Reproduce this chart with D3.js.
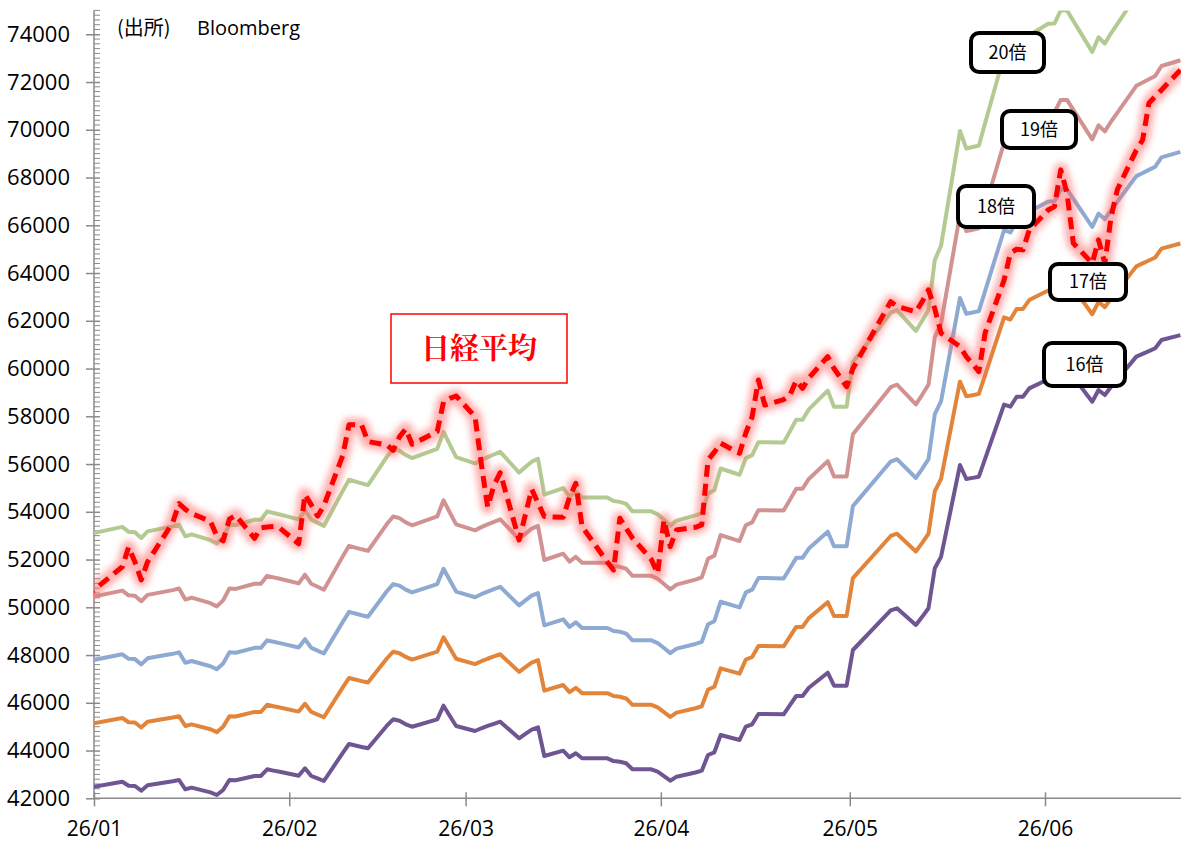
<!DOCTYPE html>
<html>
<head>
<meta charset="utf-8">
<script src="https://cdn.jsdelivr.net/npm/d3@7"></script>
<style>
  html, body { margin: 0; padding: 0; background: #ffffff; }
  svg { display: block; }
</style>
</head>
<body>
<svg id="chart" width="1181" height="843"></svg>
<script>
// Trading days (Tokyo), Nikkei 225 close and forward EPS
const dates = [
  "2025-12-30",
  "2026-01-05","2026-01-06","2026-01-07","2026-01-08","2026-01-09","2026-01-13","2026-01-14","2026-01-15","2026-01-16",
  "2026-01-19","2026-01-20","2026-01-21","2026-01-22","2026-01-23","2026-01-26","2026-01-27","2026-01-28","2026-01-29","2026-01-30",
  "2026-02-02","2026-02-03","2026-02-04","2026-02-05","2026-02-06","2026-02-09","2026-02-10","2026-02-12","2026-02-13",
  "2026-02-16","2026-02-17","2026-02-18","2026-02-19","2026-02-20","2026-02-24","2026-02-25","2026-02-26","2026-02-27",
  "2026-03-02","2026-03-03","2026-03-04","2026-03-05","2026-03-06","2026-03-09","2026-03-10","2026-03-11","2026-03-12","2026-03-13",
  "2026-03-16","2026-03-17","2026-03-18","2026-03-19","2026-03-23","2026-03-24","2026-03-25","2026-03-26","2026-03-27","2026-03-30","2026-03-31",
  "2026-04-01","2026-04-02","2026-04-03","2026-04-06","2026-04-07","2026-04-08","2026-04-09","2026-04-10","2026-04-13","2026-04-14",
  "2026-04-15","2026-04-16","2026-04-17","2026-04-20","2026-04-21","2026-04-22","2026-04-23","2026-04-24","2026-04-27","2026-04-28","2026-04-30",
  "2026-05-01","2026-05-07","2026-05-08","2026-05-11","2026-05-12","2026-05-13","2026-05-14","2026-05-15","2026-05-18",
  "2026-05-19","2026-05-20","2026-05-21","2026-05-22","2026-05-25","2026-05-26","2026-05-27","2026-05-28","2026-05-29",
  "2026-06-01","2026-06-02","2026-06-03","2026-06-04","2026-06-05","2026-06-08","2026-06-09","2026-06-10","2026-06-11","2026-06-12",
  "2026-06-15","2026-06-16","2026-06-17","2026-06-18","2026-06-19","2026-06-22"
];

const nikkei = [
  50400,
  51700, 52518, 51900, 51150, 51900, 53550, 54340, 54100, 53930,
  53600, 52990, 52780, 53690, 53850, 52890, 53330, 53360, 53380, 53320,
  52660, 54720, 54290, 53820, 54250, 56360, 57650, 57640, 56940,
  56800, 56570, 57140, 57470, 56830, 57360, 58610, 58750, 58850,
  57990, 56000, 54210, 55100, 55640, 52820, 53880, 54940, 54370, 53800,
  53770, 54600, 55190, 53380, 51900, 51560, 53730, 53300, 52900, 52000, 51420,
  53660, 52540, 53240, 53350, 53450, 56170, 56500, 56870, 56450, 57300,
  57980, 59520, 58470, 58700, 58890, 59500, 59170, 59600, 60500, 60000, 59240,
  60000, 62800, 62600, 62380, 62800, 63290, 62500, 61480, 60920,
  60500, 60200, 59870, 61500, 63700, 64830, 65000, 64970, 65800,
  66640, 66780, 68320, 67340, 65250, 64410, 65390, 64410, 66360, 67500,
  69150, 69570, 71110, 71400, 71670, 72500
];

const eps = [
  2651.1,
  2668.4, 2658.0, 2657.2, 2644.9, 2659.0, 2669.5, 2672.9, 2648.6, 2652.8,
  2640.6, 2633.6, 2646.8, 2672.9, 2672.1, 2683.4, 2683.4, 2700.9, 2697.5, 2694.4,
  2684.2, 2703.5, 2683.4, 2676.9, 2670.3, 2743.8, 2767.1, 2759.4, 2755.9,
  2815.0, 2831.8, 2828.1, 2818.8, 2812.4, 2831.8, 2867.4, 2840.6, 2814.3,
  2801.2, 2808.3, 2814.4, 2820.0, 2825.5, 2782.1, 2793.8, 2805.0, 2810.9, 2735.8,
  2749.7, 2732.3, 2742.8, 2729.7, 2729.7, 2722.5, 2720.8, 2716.6, 2700.9, 2700.9, 2694.6,
  2683.1, 2671.1, 2681.6, 2692.5, 2697.3, 2738.4, 2745.4, 2790.7, 2777.6, 2812.4,
  2818.7, 2845.7, 2845.7, 2844.9, 2868.8, 2892.8, 2892.8, 2914.5, 2953.8, 2919.8, 2919.8,
  3013.2, 3116.9, 3122.4, 3078.7, 3100.0, 3122.4, 3227.1, 3257.5, 3497.5,
  3460.9, 3463.8, 3466.9, 3514.1, 3655.7, 3650.1, 3676.3, 3676.3, 3698.1,
  3721.9, 3722.5, 3750.0, 3750.0, 3728.1, 3663.2, 3693.8, 3680.6, 3702.5, 3721.9,
  3781.1, 3788.4, 3795.6, 3803.0, 3824.8, 3837.5
];

// PER multiples drawn as bands (EPS x multiple)
const multiples = [16, 17, 18, 19, 20];
const bandLabels = ["16倍", "17倍", "18倍", "19倍", "20倍"];
const bandColors = ["#6f5592", "#e2853a", "#8eaad2", "#d09392", "#b3ca92"];

const yTicks = d3.range(42000, 74001, 2000);
const monthTicks = ["2026-01-01", "2026-02-01", "2026-03-01", "2026-04-01", "2026-05-01", "2026-06-01"];
const monthLabels = ["26/01", "26/02", "26/03", "26/04", "26/05", "26/06"];

// ---- layout ----
const plot = { left: 94, right: 1181, top: 10.4, bottom: 798.3 };
const pxPerDay = 6.298;

const parse = d3.utcParse("%Y-%m-%d");
const start = parse("2026-01-01");
const end = parse("2026-06-23");

const x = d3.scaleUtc()
  .domain([start, end])
  .range([plot.left, plot.left + pxPerDay * (end - start) / 864e5]);
const y = d3.scaleLinear().domain([42000, 75000]).range([plot.bottom, plot.top]);

// points sit in the middle of their day
const xDay = d => x(d3.utcHour.offset(d, 12));
const days = dates.map(parse);

const svg = d3.select("#chart");
const defs = svg.append("defs");
defs.append("clipPath").attr("id", "plotClip")
  .append("rect")
  .attr("x", plot.left).attr("y", plot.top)
  .attr("width", plot.right - plot.left).attr("height", plot.bottom - plot.top);

const glow = defs.append("filter").attr("id", "glow")
  .attr("x", "-10%").attr("y", "-10%").attr("width", "120%").attr("height", "120%");
glow.append("feGaussianBlur").attr("stdDeviation", 3);

const axisColor = "#8a8a8a";
const tickFont = "'Open Sans', 'Noto Sans', sans-serif";

// ---- y axis ----
const yAxis = svg.append("g")
  .attr("transform", `translate(${plot.left},0)`)
  .call(d3.axisLeft(y).tickValues(yTicks).tickSizeInner(8).tickSizeOuter(0).tickPadding(16)
    .tickFormat(d3.format("d")));
yAxis.select(".domain").attr("stroke", axisColor).attr("stroke-width", 1.5)
  .attr("d", `M0,${plot.top}V${plot.bottom}`);
yAxis.selectAll(".tick line").attr("stroke", axisColor).attr("stroke-width", 1.5).attr("x1", 6);
yAxis.selectAll(".tick text").attr("fill", "#000").style("font-family", tickFont).style("font-size", "22px");

// minor ticks
const minor = d3.range(42000, 75001, 200).filter(v => v % 2000 !== 0);
svg.append("g").selectAll("line").data(minor).join("line")
  .attr("x1", plot.left).attr("x2", plot.left + 6)
  .attr("y1", d => y(d)).attr("y2", d => y(d))
  .attr("stroke", axisColor).attr("stroke-width", 1);

// ---- x axis ----
const xAxis = svg.append("g")
  .attr("transform", `translate(0,${plot.bottom})`)
  .call(d3.axisBottom(x).tickValues(monthTicks.map(parse)).tickSizeInner(8).tickSizeOuter(0).tickPadding(15)
    .tickFormat((d, i) => monthLabels[i]));
xAxis.select(".domain").attr("stroke", axisColor).attr("stroke-width", 1.5)
  .attr("d", `M${plot.left},0H${plot.right}`);
xAxis.selectAll(".tick line").attr("stroke", axisColor).attr("stroke-width", 1.5).attr("y1", -6);
xAxis.selectAll(".tick text").attr("fill", "#000").style("font-family", tickFont).style("font-size", "21px");

// ---- PER bands ----
const lineGen = d3.line().x(d => xDay(d.date)).y(d => y(d.value));
const plotG = svg.append("g").attr("clip-path", "url(#plotClip)");

multiples.forEach((m, i) => {
  const series = days.map((d, j) => ({ date: d, value: eps[j] * m }));
  plotG.append("path")
    .datum(series)
    .attr("d", lineGen)
    .attr("fill", "none")
    .attr("stroke", bandColors[i])
    .attr("stroke-width", 4)
    .attr("stroke-linejoin", "round");
});

// ---- Nikkei 225 ----
const nk = days.map((d, j) => ({ date: d, value: nikkei[j] }));
plotG.append("path").datum(nk).attr("d", lineGen)
  .attr("fill", "none").attr("stroke", "#ff6464").attr("stroke-opacity", 0.5)
  .attr("stroke-width", 14).attr("stroke-linejoin", "round").attr("filter", "url(#glow)");
plotG.append("path").datum(nk).attr("d", lineGen)
  .attr("fill", "none").attr("stroke", "#ff0000").attr("stroke-width", 5)
  .attr("stroke-dasharray", "12,7").attr("stroke-linejoin", "round");

// ---- labels ----
const bandLabelBoxes = [
  { cx: 1084.5, cy: 364.5, w: 85, h: 47 },
  { cx: 1088, cy: 282, w: 80, h: 40 },
  { cx: 996, cy: 206.5, w: 80, h: 45 },
  { cx: 1039, cy: 129.5, w: 78, h: 41 },
  { cx: 1007.5, cy: 52.5, w: 77, h: 43 }
];
bandLabelBoxes.forEach((b, i) => {
  const g = svg.append("g").attr("transform", `translate(${b.cx},${b.cy})`);
  g.append("rect")
    .attr("x", -b.w / 2 + 2).attr("y", -b.h / 2 + 2)
    .attr("width", b.w - 4).attr("height", b.h - 4)
    .attr("rx", 8).attr("ry", 8)
    .attr("fill", "#fff").attr("stroke", "#000").attr("stroke-width", 4);
  g.append("text")
    .attr("text-anchor", "middle").attr("dy", "0.36em")
    .style("font-family", "'Noto Sans CJK JP', sans-serif").style("font-size", "18px")
    .text(bandLabels[i]);
});

// Nikkei label
const nkBox = { x: 391, y: 314, w: 176, h: 69 };
svg.append("rect")
  .attr("x", nkBox.x).attr("y", nkBox.y).attr("width", nkBox.w).attr("height", nkBox.h)
  .attr("fill", "#fff").attr("stroke", "#ff0000").attr("stroke-width", 1.5);
svg.append("text")
  .attr("x", nkBox.x + nkBox.w / 2).attr("y", nkBox.y + nkBox.h / 2)
  .attr("text-anchor", "middle").attr("dy", "0.36em")
  .attr("fill", "#ff0000")
  .style("font-family", "'Noto Serif CJK JP', 'Noto Sans CJK JP', serif")
  .style("font-weight", "bold").style("font-size", "29px")
  .text("日経平均");

// source
const src = svg.append("text").attr("y", 35).style("fill", "#000");
src.append("tspan").attr("x", 117)
  .style("font-family", "'Noto Sans CJK JP', sans-serif").style("font-size", "20px")
  .text("(出所)");
src.append("tspan").attr("x", 197)
  .style("font-family", "'Open Sans', sans-serif").style("font-size", "20px")
  .text("Bloomberg");
</script>
</body>
</html>
